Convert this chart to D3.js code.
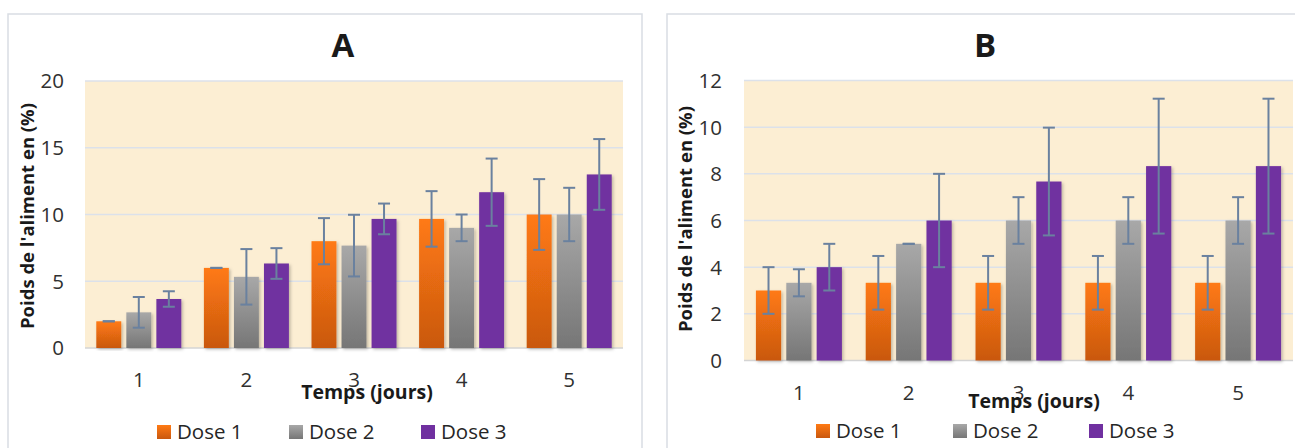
<!DOCTYPE html>
<html><head><meta charset="utf-8">
<script src="https://cdn.jsdelivr.net/npm/d3@7"></script>
<style>
html,body{margin:0;padding:0;background:#fff;}
svg{display:block;font-family:"Open Sans",sans-serif;}
</style></head>
<body>
<svg id="chart" width="1295" height="448"></svg>
<script>
// ---- data ----
const categories = ["1", "2", "3", "4", "5"];
const seriesNames = ["Dose 1", "Dose 2", "Dose 3"];

const dose1A = [2.0, 6.0, 8.0, 9.67, 10.0];
const dose2A = [2.67, 5.33, 7.67, 9.0, 10.0];
const dose3A = [3.67, 6.33, 9.67, 11.67, 13.0];
const err1A = [0.0, 0.0, 1.73, 2.08, 2.65];
const err2A = [1.15, 2.08, 2.31, 1.0, 2.0];
const err3A = [0.58, 1.15, 1.15, 2.52, 2.65];
const ticksA = [0, 5, 10, 15, 20];

const dose1B = [3.0, 3.33, 3.33, 3.33, 3.33];
const dose2B = [3.33, 5.0, 6.0, 6.0, 6.0];
const dose3B = [4.0, 6.0, 7.67, 8.33, 8.33];
const err1B = [1.0, 1.15, 1.15, 1.15, 1.15];
const err2B = [0.58, 0.0, 1.0, 1.0, 1.0];
const err3B = [1.0, 2.0, 2.31, 2.89, 2.89];
const ticksB = [0, 2, 4, 6, 8, 10, 12];

const titleA = "A", titleB = "B";
const yLabel = "Poids de l'aliment en (%)";
const xLabel = "Temps (jours)";

// ---- drawing ----
const svg = d3.select("#chart");
const defs = svg.append("defs");
function grad(id, c1, c2) {
  const g = defs.append("linearGradient").attr("id", id)
    .attr("x1", 0).attr("y1", 0).attr("x2", 0).attr("y2", 1);
  g.append("stop").attr("offset", "0%").attr("stop-color", c1);
  g.append("stop").attr("offset", "100%").attr("stop-color", c2);
}
grad("gOrange", "#FF7A14", "#C9580F");
grad("gGray", "#A8A8A8", "#767676");
const fills = ["url(#gOrange)", "url(#gGray)", "#7030A0"];
const f = defs.append("filter").attr("id", "shadow")
  .attr("x", "-20%").attr("y", "-5%").attr("width", "150%").attr("height", "115%");
f.append("feDropShadow").attr("dx", 1.5).attr("dy", 1.5).attr("stdDeviation", 1.5)
  .attr("flood-color", "#000").attr("flood-opacity", 0.25);

function drawChart(cfg) {
  const g = svg.append("g");
  // frame
  g.append("rect").attr("x", cfg.frame[0]).attr("y", cfg.frame[1])
    .attr("width", cfg.frame[2]).attr("height", cfg.frame[3])
    .attr("fill", "#fff").attr("stroke", "#D9DDE3").attr("stroke-width", 1.5);

  const y = d3.scaleLinear().domain([0, d3.max(cfg.ticks)]).range([cfg.bottom, cfg.top]);
  const x0 = d3.scaleBand().domain(categories).range([cfg.left, cfg.right])
    .paddingInner(cfg.pad).paddingOuter(cfg.pad / 2);
  const x1 = d3.scaleBand().domain(seriesNames).range([0, x0.bandwidth()])
    .paddingInner(cfg.innerPad).paddingOuter(0);

  // plot background
  g.append("rect").attr("x", cfg.left).attr("y", cfg.top)
    .attr("width", cfg.right - cfg.left).attr("height", cfg.bottom - cfg.top)
    .attr("fill", "#FCEED3");

  // gridlines
  g.append("g").selectAll("line").data(cfg.ticks).join("line")
    .attr("x1", cfg.left).attr("x2", cfg.right)
    .attr("y1", d => y(d)).attr("y2", d => y(d))
    .attr("stroke", d => d === 0 ? "#D4D4D4" : "#DCE1EA").attr("stroke-width", 1.5);

  // y axis labels
  const yAxis = d3.axisLeft(y).tickValues(cfg.ticks).tickSize(0).tickPadding(0);
  const ya = g.append("g").attr("transform", `translate(${cfg.yLabelX},0)`).call(yAxis);
  ya.select(".domain").remove();
  ya.selectAll("text").attr("font-size", 20.5).attr("fill", "#303030")
    .attr("font-family", "Open Sans").attr("dy", "0.34em");

  // x axis labels
  const xAxis = d3.axisBottom(x0).tickSize(0).tickPadding(0);
  const xa = g.append("g").attr("transform", `translate(0,${cfg.xTickY})`).call(xAxis);
  xa.select(".domain").remove();
  xa.selectAll("text").attr("font-size", 20.5).attr("fill", "#303030")
    .attr("font-family", "Open Sans").attr("dy", 0);

  // bars
  const groups = g.append("g").selectAll("g").data(categories).join("g")
    .attr("transform", d => `translate(${x0(d)},0)`);
  groups.each(function(cat, i) {
    const gg = d3.select(this);
    cfg.series.forEach((vals, s) => {
      const v = vals[i], e = cfg.errs[s][i];
      const bx = x1(seriesNames[s]), bw = x1.bandwidth();
      gg.append("rect").attr("x", bx).attr("y", y(v))
        .attr("width", bw).attr("height", y(0) - y(v))
        .attr("fill", fills[s]).attr("filter", "url(#shadow)");
      const cx = bx + bw / 2;
      const eg = gg.append("g").attr("stroke", "#6A819F").attr("stroke-width", 2);
      eg.append("line").attr("x1", cx).attr("x2", cx).attr("y1", y(v + e)).attr("y2", y(v - e));
      [v + e, v - e].forEach(t => {
        eg.append("line").attr("x1", cx - 6).attr("x2", cx + 6).attr("y1", y(t)).attr("y2", y(t));
      });
    });
  });

  // title
  g.append("text").attr("x", cfg.titleX).attr("y", cfg.titleY).attr("text-anchor", "middle")
    .attr("font-size", 33).attr("font-weight", 700).attr("fill", "#1a1a1a").text(cfg.title);

  // y title
  g.append("text").attr("transform", `translate(${cfg.yTitleX},${cfg.yTitleC}) rotate(-90)`)
    .attr("text-anchor", "middle").attr("font-size", 18.5).attr("font-weight", 700)
    .attr("fill", "#1a1a1a").text(yLabel);

  // x title
  g.append("text").attr("x", cfg.xTitleX).attr("y", cfg.xTitleY).attr("text-anchor", "middle")
    .attr("font-size", 19.5).attr("font-weight", 700).attr("fill", "#1a1a1a").text(xLabel);

  // legend
  const lg = g.append("g");
  seriesNames.forEach((n, s) => {
    const lx = cfg.legendX[s];
    lg.append("rect").attr("x", lx).attr("y", cfg.legendY - 14).attr("width", 14).attr("height", 14)
      .attr("fill", fills[s]);
    lg.append("text").attr("x", lx + 20).attr("y", cfg.legendY).attr("font-size", 20.5)
      .attr("fill", "#262626").text(n);
  });
}

drawChart({
  frame: [8, 14, 634, 450], left: 85, right: 623, top: 81, bottom: 348,
  pad: 0.21, innerPad: 0.17, ticks: ticksA, series: [dose1A, dose2A, dose3A],
  errs: [err1A, err2A, err3A], yLabelX: 64, xTickY: 387, title: titleA, titleX: 343, titleY: 57,
  yTitleX: 34, yTitleC: 216, xTitleX: 367, xTitleY: 399, legendX: [157, 289, 421], legendY: 439
});
drawChart({
  frame: [667, 14, 640, 450], left: 744, right: 1293, top: 80.5, bottom: 360.5,
  pad: 0.217, innerPad: 0.17, ticks: ticksB, series: [dose1B, dose2B, dose3B],
  errs: [err1B, err2B, err3B], yLabelX: 722, xTickY: 400, title: titleB, titleX: 985, titleY: 57,
  yTitleX: 692, yTitleC: 219, xTitleX: 1034, xTitleY: 408, legendX: [816, 953, 1089], legendY: 438
});
</script>
</body></html>
